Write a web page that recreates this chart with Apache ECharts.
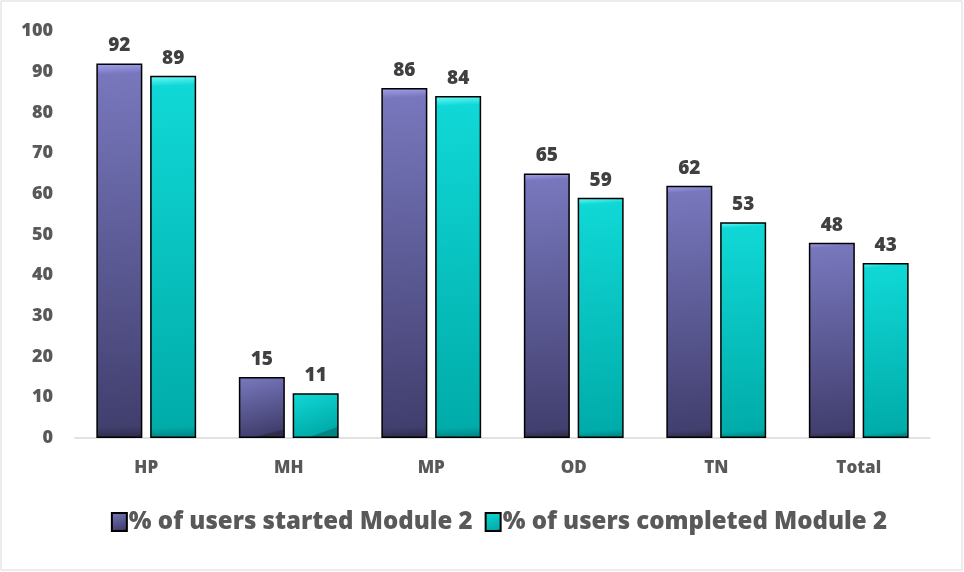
<!DOCTYPE html>
<html>
<head>
<meta charset="utf-8">
<script src="https://cdn.jsdelivr.net/npm/echarts@6/dist/echarts.min.js"></script>
<style>
  html, body { margin: 0; padding: 0; background: #fff; }
  #chart { width: 964px; height: 572px; }
</style>
</head>
<body>
<div id="chart"></div>
<script>
// categories and values
var categories = ['HP', 'MH', 'MP', 'OD', 'TN', 'Total'];
var startedValues = [92, 15, 86, 65, 62, 48];
var completedValues = [89, 11, 84, 59, 53, 43];
var seriesNames = ['% of users started Module 2', '% of users completed Module 2'];
var yTicks = { min: 0, max: 100, interval: 10 };

var fontFamily = '"Open Sans", Lato, sans-serif';
var textGrey = '#595959';

// fake bevel: light top-left edge, body darkening downwards
function bevel(light, top, bottom, dark) {
	return new echarts.graphic.LinearGradient(0, 0, 0.35, 1, [
		{ offset: 0, color: light },
		{ offset: 0.03, color: top },
		{ offset: 0.97, color: bottom },
		{ offset: 1, color: dark }
	]);
}

var chart = echarts.init(document.getElementById('chart'));

var option = {
	animation: false,
	graphic: [{
		type: 'rect',
		shape: { x: 1, y: 1, width: 961, height: 569 },
		style: { fill: 'none', stroke: '#d9d9d9', lineWidth: 1 }
	}],
	grid: { left: 75, right: 34, top: 31, bottom: 134 },
	legend: {
		bottom: 33,
		right: 72,
		itemWidth: 15,
		itemHeight: 18,
		itemGap: 12,
		icon: 'rect',
		textStyle: { fontFamily: fontFamily, fontWeight: 800, fontSize: 24, color: textGrey, padding: [0, 0, 0, -3] },
		data: seriesNames
	},
	xAxis: {
		type: 'category',
		data: categories,
		axisTick: { show: false },
		axisLine: { lineStyle: { color: '#d9d9d9', width: 1.5 } },
		axisLabel: { fontFamily: fontFamily, fontWeight: 800, fontSize: 17, color: textGrey, margin: 22 }
	},
	yAxis: {
		type: 'value',
		min: yTicks.min,
		max: yTicks.max,
		interval: yTicks.interval,
		splitLine: { show: false },
		axisLine: { show: false },
		axisTick: { show: false },
		axisLabel: { fontFamily: fontFamily, fontWeight: 800, fontSize: 18, color: textGrey, margin: 22 }
	},
	series: [{
		name: seriesNames[0],
		type: 'bar',
		data: startedValues,
		barWidth: 46,
		barGap: '17%',
		itemStyle: {
			color: bevel('#a3a2ee', '#7877bd', '#413f6e', '#2e2d4a'),
			borderColor: '#000',
			borderWidth: 1.5
		},
		label: {
			show: true, position: 'top', distance: 8,
			fontFamily: fontFamily, fontWeight: 800, fontSize: 19, color: '#404040'
		}
	}, {
		name: seriesNames[1],
		type: 'bar',
		data: completedValues,
		barWidth: 46,
		itemStyle: {
			color: bevel('#6ffcfa', '#10d8d6', '#00aca9', '#008583'),
			borderColor: '#000',
			borderWidth: 1.5
		},
		label: {
			show: true, position: 'top', distance: 8,
			fontFamily: fontFamily, fontWeight: 800, fontSize: 19, color: '#404040'
		}
	}]
};

chart.setOption(option);
</script>
</body>
</html>
